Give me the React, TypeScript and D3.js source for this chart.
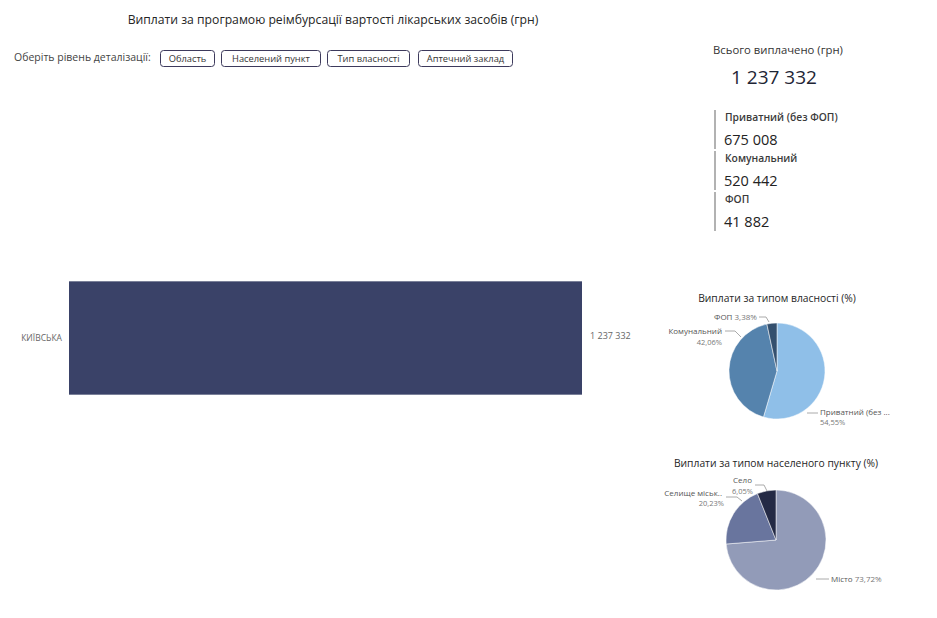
import React from "react";
import * as d3 from "d3";

const title = "Виплати за програмою реімбурсації вартості лікарських засобів (грн)";
const filterLabel = "Оберіть рівень деталізації:";
const buttons = ["Область", "Населений пункт", "Тип власності", "Аптечний заклад"];

const regions = ["КИЇВСЬКА"];
const regionValues = [1237332];

const totalLabel = "Всього виплачено (грн)";
const totalValue = 1237332;

const ownershipTypes = ["Приватний (без ФОП)", "Комунальний", "ФОП"];
const ownershipValues = [675008, 520442, 41882];
const ownershipShort = ["Приватний (без ...", "Комунальний", "ФОП"];
const ownershipColors = ["#8fbfe8", "#5583ad", "#34506e"];

const settlementTypes = ["Місто", "Селище міськ..", "Село"];
const settlementPct = [73.72, 20.23, 6.05];
const settlementColors = ["#929bb8", "#69759e", "#242a45"];

const FONT = "'Segoe UI', 'Open Sans', 'Noto Sans', sans-serif";
const fmt = (v: number) => d3.format(",")(v).replace(/,/g, " ");
const pctFmt = (v: number) => v.toFixed(2).replace(".", ",") + "%";

const buttonX = [160, 221, 327, 418];
const buttonW = [54, 99, 82, 94];

function Pie({ cx, cy, r, values, colors }: { cx: number; cy: number; r: number; values: number[]; colors: string[] }) {
  const pie = d3.pie<number>().sort(null).value((d) => d)(values);
  const arc = d3.arc<d3.PieArcDatum<number>>().innerRadius(0).outerRadius(r);
  return (
    <g transform={`translate(${cx},${cy})`}>
      {pie.map((p, i) => (
        <path key={i} d={arc(p) || ""} fill={colors[i]} stroke="#fff" strokeWidth={0.5} />
      ))}
    </g>
  );
}

export default function App() {
  const x = d3.scaleLinear().domain([0, totalValue]).range([69, 582]);
  const y = d3.scaleBand().domain(regions).range([270, 406]).paddingInner(0.1).paddingOuter(0.09);
  const totalOwn = d3.sum(ownershipValues);
  const ownPct = ownershipValues.map((v) => (v / totalOwn) * 100);

  return (
    <svg width={937} height={618} style={{ position: "absolute", left: 0, top: 0, background: "#fff" }} fontFamily={FONT}>
      <text x={333} y={24} textAnchor="middle" fontSize={12.2} fill="#252525">{title}</text>
      <text x={14} y={61} fontSize={10.5} fill="#444">{filterLabel}</text>
      {buttons.map((b, i) => (
        <g key={b}>
          <rect x={buttonX[i] + 0.5} y={50.5} width={buttonW[i]} height={16} rx={3} fill="#fff" stroke="#3d3a5c" strokeWidth={1} />
          <text x={buttonX[i] + buttonW[i] / 2 + 0.5} y={62} textAnchor="middle" fontSize={9.3} fill="#333">{b}</text>
        </g>
      ))}

      {/* KPI */}
      <text x={778} y={54} textAnchor="middle" fontSize={11.3} fill="#333">{totalLabel}</text>
      <text x={774} y={84} textAnchor="middle" fontSize={19} fill="#1e2535">{fmt(totalValue)}</text>
      {ownershipTypes.map((t, i) => {
        const top = 110 + i * 41;
        return (
          <g key={t}>
            <line x1={715} x2={715} y1={top} y2={top + 39} stroke="#999" strokeWidth={1.5} />
            <text x={725} y={top + 11} fontSize={10.3} fontWeight={600} fill="#3a3a3a">{t}</text>
            <text x={724} y={top + 35} fontSize={14.5} fill="#222">{fmt(ownershipValues[i])}</text>
          </g>
        );
      })}

      {/* Bar chart */}
      {regions.map((r, i) => (
        <g key={r}>
          <rect x={x(0)} y={y(r)!} width={x(regionValues[i]) - x(0)} height={y.bandwidth()} fill="#3a4268" />
          <text x={62} y={y(r)! + y.bandwidth() / 2 + 3} textAnchor="end" fontSize={8.5} fill="#666">{r}</text>
          <text x={x(regionValues[i]) + 8} y={y(r)! + y.bandwidth() / 2 + 1} fontSize={9} fill="#666">{fmt(regionValues[i])}</text>
        </g>
      ))}

      {/* Pie 1 */}
      <text x={777} y={302} textAnchor="middle" fontSize={10.3} fill="#252525">Виплати за типом власності (%)</text>
      <Pie cx={777} cy={371} r={48} values={ownershipValues} colors={ownershipColors} />
      <polyline points="759,317 766,317 769,322" fill="none" stroke="#aaa" strokeWidth={1} />
      <text x={714} y={320} fontSize={8} fill="#555">{ownershipShort[2]} <tspan fill="#777">{pctFmt(ownPct[2])}</tspan></text>
      <polyline points="725,331 735,331 741,337" fill="none" stroke="#aaa" strokeWidth={1} />
      <text x={722} y={334} textAnchor="end" fontSize={8} fill="#555">{ownershipShort[1]}</text>
      <text x={722} y={345} textAnchor="end" fontSize={7.5} fill="#777">{pctFmt(ownPct[1])}</text>
      <polyline points="807,413 818,413" fill="none" stroke="#aaa" strokeWidth={1} />
      <text x={820} y={415} fontSize={8} fill="#555">{ownershipShort[0]}</text>
      <text x={820} y={425} fontSize={7.5} fill="#777">{pctFmt(ownPct[0])}</text>

      {/* Pie 2 */}
      <text x={776} y={467} textAnchor="middle" fontSize={10.3} fill="#252525">Виплати за типом населеного пункту (%)</text>
      <Pie cx={776} cy={540} r={50} values={settlementPct} colors={settlementColors} />
      <polyline points="755,485 764,485 767,491" fill="none" stroke="#aaa" strokeWidth={1} />
      <text x={752} y={483} textAnchor="end" fontSize={8} fill="#555">{settlementTypes[2]}</text>
      <text x={753} y={494} textAnchor="end" fontSize={7.5} fill="#777">{pctFmt(settlementPct[2])}</text>
      <polyline points="726,497 737,497 742,501" fill="none" stroke="#aaa" strokeWidth={1} />
      <text x={722} y={496} textAnchor="end" fontSize={8} fill="#555">{settlementTypes[1]}</text>
      <text x={724} y={506} textAnchor="end" fontSize={7.5} fill="#777">{pctFmt(settlementPct[1])}</text>
      <polyline points="816,579 829,579" fill="none" stroke="#aaa" strokeWidth={1} />
      <text x={831} y={582} fontSize={8} fill="#555">{settlementTypes[0]} <tspan fill="#777">{pctFmt(settlementPct[0])}</tspan></text>
    </svg>
  );
}
